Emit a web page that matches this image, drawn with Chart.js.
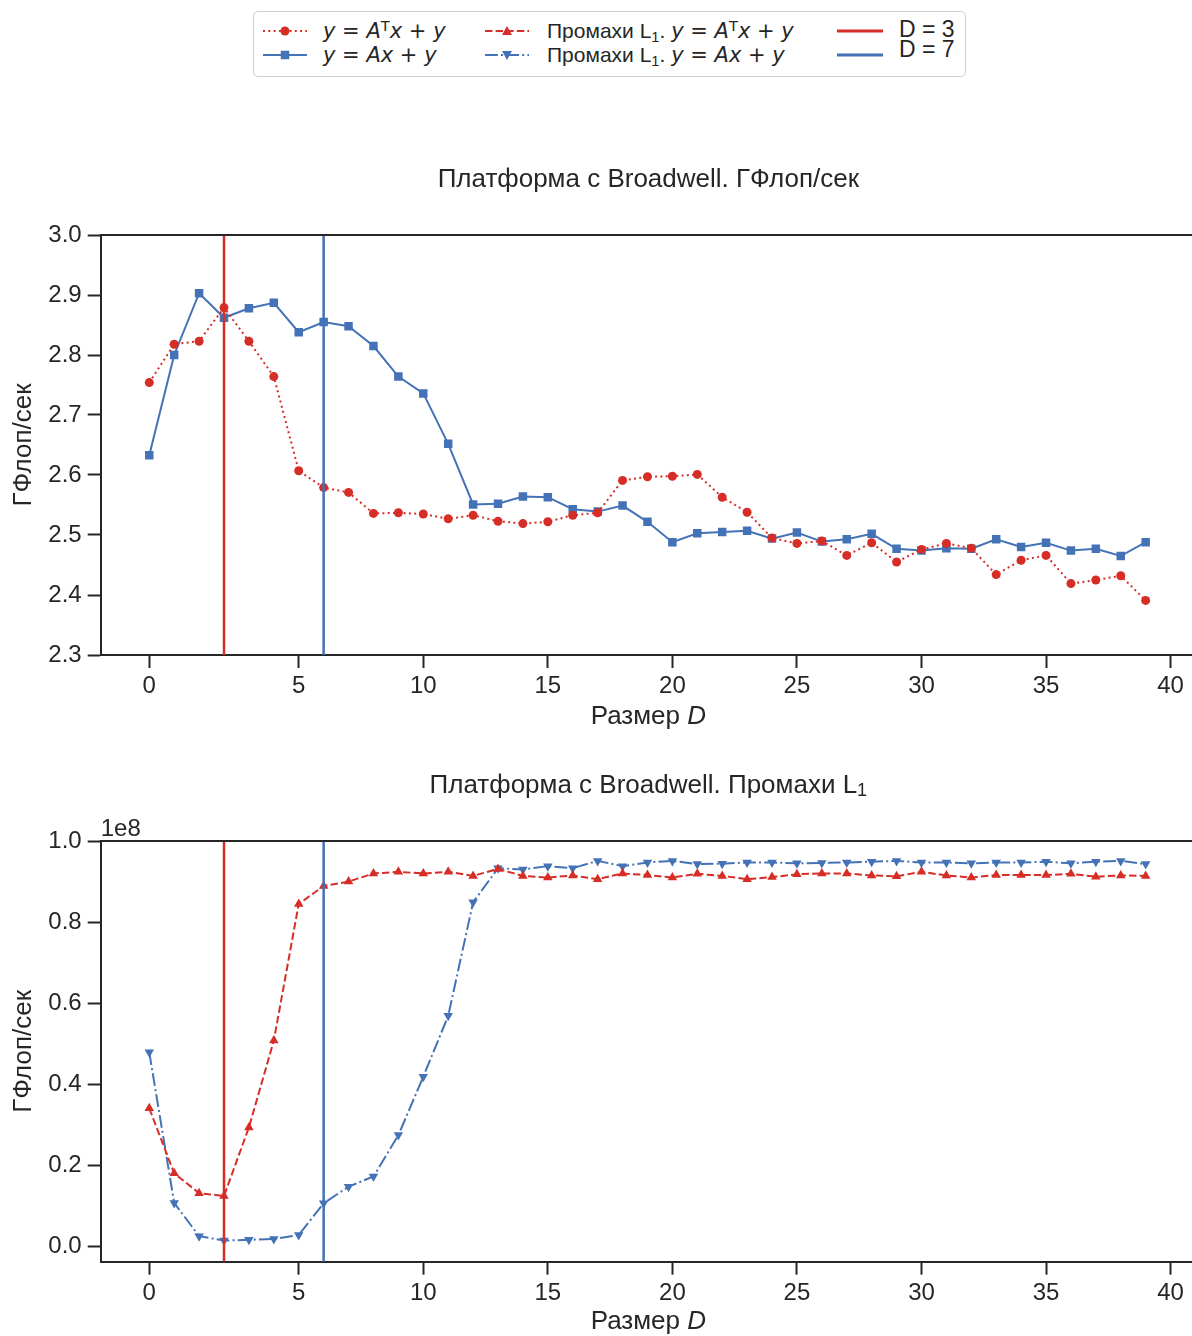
<!DOCTYPE html>
<html><head><meta charset="utf-8">
<script src="https://cdn.jsdelivr.net/npm/chart.js@4.4.0/dist/chart.umd.min.js"></script>
<style>
html,body{margin:0;padding:0;background:#fff;overflow:hidden;}
body{width:1192px;height:1336px;position:relative;font-family:'Liberation Sans',Arial,sans-serif;}
#c1{position:absolute;left:0;top:0;}
#c2{position:absolute;left:0;top:745px;}
#legend{position:absolute;left:253px;top:11px;width:713px;height:66px;border:1.5px solid #d0d0d0;border-radius:5px;background:#fff;box-sizing:border-box;}
.h{position:absolute;}
.t{position:absolute;height:24px;line-height:24px;font-size:21px;color:#262626;white-space:nowrap;}
.m{font-family:'DejaVu Sans';}
.mi{font-family:'DejaVu Sans';font-style:italic;}
.sup{font-family:'DejaVu Sans';font-size:0.7em;position:relative;top:-0.5em;}
.sub{font-size:0.7em;position:relative;top:0.3em;}
</style></head>
<body>
<canvas id="c1" width="1192" height="745"></canvas>
<canvas id="c2" width="1192" height="591"></canvas>
<div id="legend">
  <svg class="h" style="left:8px;top:7px" width="46" height="24"><line x1="1" y1="12" x2="45" y2="12" stroke="#d62d26" stroke-width="2" stroke-dasharray="2 3.3"/><circle cx="23" cy="12" r="4.5" fill="#d62d26"/></svg>
  <div class="t" style="left:69px;top:7px"><span class="mi">y</span><span class="m"> = </span><span class="mi">A</span><span class="sup">T</span><span class="mi">x</span><span class="m"> + </span><span class="mi">y</span></div>
  <svg class="h" style="left:8px;top:31px" width="46" height="24"><line x1="1" y1="12" x2="45" y2="12" stroke="#4472b6" stroke-width="2"/><rect x="18.75" y="7.75" width="8.5" height="8.5" fill="#4472b6"/></svg>
  <div class="t" style="left:69px;top:31px"><span class="mi">y</span><span class="m"> = </span><span class="mi">Ax</span><span class="m"> + </span><span class="mi">y</span></div>

  <svg class="h" style="left:230px;top:7px" width="46" height="24"><line x1="1" y1="12" x2="45" y2="12" stroke="#d62d26" stroke-width="2" stroke-dasharray="7.4 3.2"/><polygon points="23,7 28,16 18,16" fill="#d62d26"/></svg>
  <div class="t" style="left:293px;top:7px">Промахи L<span class="sub">1</span>. <span class="mi">y</span><span class="m"> = </span><span class="mi">A</span><span class="sup">T</span><span class="mi">x</span><span class="m"> + </span><span class="mi">y</span></div>
  <svg class="h" style="left:230px;top:31px" width="46" height="24"><line x1="1" y1="12" x2="45" y2="12" stroke="#4472b6" stroke-width="2" stroke-dasharray="12.8 3.2 2 3.2"/><polygon points="23,17 28,8 18,8" fill="#4472b6"/></svg>
  <div class="t" style="left:293px;top:31px">Промахи L<span class="sub">1</span>. <span class="mi">y</span><span class="m"> = </span><span class="mi">Ax</span><span class="m"> + </span><span class="mi">y</span></div>

  <svg class="h" style="left:582px;top:7px" width="48" height="24"><line x1="1" y1="12" x2="47" y2="12" stroke="#d62d26" stroke-width="3"/></svg>
  <div class="t" style="left:645px;top:5px;font-size:23px">D = 3</div>
  <svg class="h" style="left:582px;top:31px" width="48" height="24"><line x1="1" y1="12" x2="47" y2="12" stroke="#4472b6" stroke-width="3"/></svg>
  <div class="t" style="left:645px;top:25px;font-size:23px">D = 7</div>
</div>
<script>
// ---------- data ----------
const D_INDEX = [0,1,2,3,4,5,6,7,8,9,10,11,12,13,14,15,16,17,18,19,20,21,22,23,24,25,26,27,28,29,30,31,32,33,34,35,36,37,38,39,40];
const X_TICK_POS = [0,6,11,16,21,26,31,36,41];
const X_TICK_LABELS = ['0','5','10','15','20','25','30','35','40'];
const VLINE_D = [3, 7];
const Y1_TICKS = [2.3,2.4,2.5,2.6,2.7,2.8,2.9,3.0];
const Y2_TICKS = [0,0.2,0.4,0.6,0.8,1.0];

// ГФлоп/сек, y = A^T x + y
const gflopsAT = [2.754,2.818,2.823,2.879,2.823,2.764,2.607,2.579,2.571,2.536,2.537,2.535,2.527,
  2.533,2.523,2.519,2.522,2.533,2.537,2.591,2.597,2.598,2.601,2.563,2.538,2.495,2.486,2.490,
  2.466,2.487,2.455,2.476,2.486,2.478,2.434,2.458,2.466,2.419,2.425,2.432,2.391];
// ГФлоп/сек, y = Ax + y
const gflopsA = [2.633,2.800,2.903,2.862,2.878,2.887,2.838,2.855,2.848,2.815,2.764,2.736,2.652,
  2.551,2.552,2.564,2.563,2.543,2.539,2.549,2.522,2.488,2.503,2.505,2.507,2.494,2.504,2.489,
  2.493,2.502,2.477,2.474,2.478,2.477,2.493,2.480,2.487,2.474,2.477,2.465,2.488];
// Промахи L1 (units of 1e8), y = A^T x + y
const missAT = [0.341,0.181,0.132,0.125,0.294,0.508,0.845,0.889,0.900,0.920,0.924,0.920,0.924,
  0.914,0.931,0.914,0.910,0.915,0.906,0.920,0.916,0.910,0.919,0.914,0.906,0.911,0.918,0.920,
  0.920,0.915,0.913,0.924,0.915,0.910,0.916,0.916,0.916,0.919,0.912,0.915,0.914];
// Промахи L1 (units of 1e8), y = Ax + y
const missA = [0.479,0.108,0.026,0.015,0.017,0.019,0.029,0.107,0.148,0.173,0.275,0.419,0.569,
  0.849,0.933,0.930,0.938,0.933,0.951,0.938,0.947,0.951,0.943,0.944,0.947,0.947,0.945,0.946,
  0.947,0.949,0.951,0.947,0.947,0.945,0.947,0.947,0.949,0.945,0.949,0.951,0.943];

// ---------- style ----------
const INK = '#262626';
const RED = '#d62d26';
const BLUE = '#4472b6';
const SANS = "'Liberation Sans', Arial, sans-serif";
const TICK_SIZE = 24;
const LABEL_SIZE = 26;

const xy = arr => arr.map((v, i) => ({x: D_INDEX[i], y: v}));
const vline = (d, lo, hi) => [{x: d, y: lo}, {x: d, y: hi}];

function drawRuns(ctx, runs, cx, cy) {
  let total = 0;
  runs.forEach(r => { ctx.font = r.font; total += ctx.measureText(r.t).width; });
  let x = cx - total / 2;
  ctx.textBaseline = 'middle';
  ctx.textAlign = 'left';
  runs.forEach(r => { ctx.font = r.font; ctx.fillText(r.t, x, cy + (r.dy || 0)); x += ctx.measureText(r.t).width; });
}

const deco = {
  id: 'deco',
  afterDraw(chart, args, o) {
    const ctx = chart.ctx, a = chart.chartArea;
    ctx.save();
    ctx.strokeStyle = INK; ctx.lineWidth = 2;
    ctx.beginPath(); ctx.moveTo(a.left - 1, a.top); ctx.lineTo(chart.width, a.top); ctx.stroke();
    ctx.fillStyle = INK;
    const cx = (a.left + 1196) / 2;
    drawRuns(ctx, o.title, cx, o.titleY);
    drawRuns(ctx, [{t: 'Размер ', font: LABEL_SIZE + 'px ' + SANS}, {t: 'D', font: 'italic ' + LABEL_SIZE + 'px ' + SANS}], cx, o.xTitleY);
    ctx.save();
    ctx.translate(24, (a.top + a.bottom) / 2);
    ctx.rotate(-Math.PI / 2);
    drawRuns(ctx, [{t: 'ГФлоп/сек', font: LABEL_SIZE + 'px ' + SANS}], 0, 0);
    ctx.restore();
    if (o.offsetText) {
      ctx.font = '24px ' + SANS; ctx.textAlign = 'left'; ctx.textBaseline = 'alphabetic';
      ctx.fillText(o.offsetText, a.left, a.top - 5);
    }
    ctx.restore();
  }
};

function makeChart(id, cfg) {
  return new Chart(document.getElementById(id), {
    type: 'line',
    data: {datasets: [
      {data: vline(VLINE_D[0], cfg.yMin, cfg.yMax), borderColor: RED, borderWidth: 2.5, pointRadius: 0, order: 0},
      {data: vline(VLINE_D[1], cfg.yMin, cfg.yMax), borderColor: BLUE, borderWidth: 2.5, pointRadius: 0, order: 0},
      ...cfg.series.map(s => Object.assign({tension: 0, borderWidth: 2, pointBorderWidth: 0, borderCapStyle: 'butt', order: 1}, s))
    ]},
    options: {
      responsive: false, animation: false, devicePixelRatio: 1,
      layout: {autoPadding: false, padding: {top: cfg.padTop, left: 0, right: 1, bottom: 0}},
      plugins: {legend: {display: false}, tooltip: {enabled: false}, title: {display: false},
        deco: {title: cfg.title, titleY: cfg.titleY, xTitleY: cfg.xTitleY, offsetText: cfg.offsetText}},
      scales: {
        x: {type: 'linear', min: -1.95, max: 41.82,
          afterBuildTicks: s => { s.ticks = X_TICK_POS.map(v => ({value: v})); },
          afterFit: s => { s.height = cfg.xH; s.paddingLeft = 0; s.paddingRight = 0; },
          grid: {display: true, drawOnChartArea: false, drawTicks: true, tickLength: 13, tickWidth: 2, tickColor: INK},
          border: {display: true, color: INK, width: 2},
          ticks: {color: INK, font: {family: SANS, size: TICK_SIZE}, padding: 4, maxRotation: 0, autoSkip: false,
            callback: (v, i) => X_TICK_LABELS[i]}},
        y: {type: 'linear', min: cfg.yMin, max: cfg.yMax,
          afterBuildTicks: s => { s.ticks = cfg.yTicks.map(v => ({value: v})); },
          afterFit: s => { s.width = 100.7; s.paddingTop = 0; s.paddingBottom = 0; },
          grid: {display: true, drawOnChartArea: false, drawTicks: true, tickLength: 13, tickWidth: 2, tickColor: INK},
          border: {display: true, color: INK, width: 2},
          ticks: {color: INK, font: {family: SANS, size: TICK_SIZE}, padding: 6, autoSkip: false,
            callback: v => Number(v).toFixed(1)}}
      }
    },
    plugins: [deco]
  });
}

makeChart('c1', {
  padTop: 235, xH: 90, yMin: 2.3, yMax: 3.0, yTicks: Y1_TICKS,
  titleY: 180, xTitleY: 717,
  title: [{t: 'Платформа с Broadwell. ГФлоп/сек', font: LABEL_SIZE + 'px ' + SANS}],
  series: [
    {data: xy(gflopsAT), borderColor: RED, backgroundColor: RED, borderDash: [2, 3.3], pointStyle: 'circle', pointRadius: 4.5},
    {data: xy(gflopsA), borderColor: BLUE, backgroundColor: BLUE, pointStyle: 'rect', pointRadius: 6}
  ]
});

makeChart('c2', {
  padTop: 96, xH: 74.3, yMin: -0.037, yMax: 1.0, yTicks: Y2_TICKS,
  titleY: 41, xTitleY: 577, offsetText: '1e8',
  title: [{t: 'Платформа с Broadwell. Промахи L', font: LABEL_SIZE + 'px ' + SANS},
          {t: '1', font: Math.round(LABEL_SIZE * 0.7) + 'px ' + SANS, dy: 5}],
  series: [
    {data: xy(missAT), borderColor: RED, backgroundColor: RED, borderDash: [7.4, 3.2], pointStyle: 'triangle', pointRadius: 5.5},
    {data: xy(missA), borderColor: BLUE, backgroundColor: BLUE, borderDash: [12.8, 3.2, 2, 3.2], pointStyle: 'triangle', pointRotation: 180, pointRadius: 5.5}
  ]
});
</script>
</body></html>
